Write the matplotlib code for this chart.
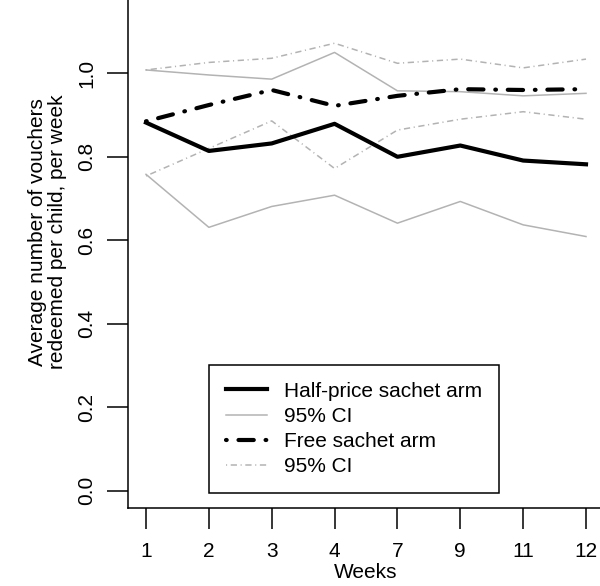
import matplotlib
matplotlib.use('Agg')
import matplotlib.pyplot as plt
import numpy as np

# week labels (plotted at equal spacing)
weeks = ['1', '2', '3', '4', '7', '9', '11', '12']

# half-price sachet arm
half_mean = [0.882, 0.814, 0.832, 0.879, 0.800, 0.827, 0.791, 0.782]
half_upper = [1.008, 0.996, 0.986, 1.050, 0.958, 0.956, 0.946, 0.952]
half_lower = [0.758, 0.631, 0.681, 0.708, 0.641, 0.693, 0.637, 0.609]

# free sachet arm
free_mean = [0.885, 0.924, 0.960, 0.922, 0.946, 0.962, 0.960, 0.962]
free_upper = [1.008, 1.026, 1.036, 1.072, 1.024, 1.034, 1.013, 1.034]
free_lower = [0.754, 0.820, 0.886, 0.772, 0.864, 0.890, 0.908, 0.890]

yticks = [0.0, 0.2, 0.4, 0.6, 0.8, 1.0]

plt.rcParams.update({'font.family': 'Liberation Sans', 'font.size': 15,
                     'lines.scale_dashes': False})

grey = '#b3b3b3'
x = np.arange(1, len(weeks) + 1)

fig = plt.figure(figsize=(6, 5.86), dpi=100)
ax = fig.add_axes([0.214, 0.1326, 0.792, 0.8848])

# confidence bands first, means on top
ci_half = []
ci_half += ax.plot(x, half_upper, color=grey, lw=1.1)
ax.plot(x, half_lower, color=grey, lw=1.1)
ci_free = []
ci_free += ax.plot(x, free_upper, color=grey, lw=1.1, dashes=(0.8, 2.6, 4.5, 2.6))
ax.plot(x, free_lower, color=grey, lw=1.1, dashes=(0.8, 2.6, 4.5, 2.6))
line_half, = ax.plot(x, half_mean, color='black', lw=3)
line_free, = ax.plot(x, free_mean, color='black', lw=3,
                     dashes=(0.5, 8.5, 11, 8.5), dash_capstyle='round')

ax.set_xlim(0.72, 8.28)
ax.set_ylim(-0.042, 1.2)
ax.set_xticks(x)
ax.set_xticklabels(weeks)
ax.set_yticks(yticks)
ax.set_yticklabels(['%.1f' % v for v in yticks])
ax.tick_params(length=15, width=1.1, color='black')
ax.tick_params(axis='x', pad=9)
ax.tick_params(axis='y', pad=8, labelrotation=90)
for lab in ax.get_yticklabels():
    lab.set_va('center')

for s in ax.spines.values():
    s.set_linewidth(1.1)
    s.set_color('black')

ax.set_xlabel('Weeks', labelpad=2)
ax.set_ylabel('Average number of vouchers\nredeemed per child, per week',
              linespacing=1.1)
ax.yaxis.set_label_coords(-0.129, 0.533)

legend = fig.legend([line_half, ci_half[0], line_free, ci_free[0]],
                    ['Half-price sachet arm', '95% CI', 'Free sachet arm', '95% CI'],
                    loc='lower left', bbox_to_anchor=(209 / 600, (586 - 493) / 586),
                    frameon=True, fancybox=False, framealpha=1, edgecolor='black',
                    handlelength=2.0, handletextpad=0.8, labelspacing=0.3,
                    borderpad=0.8, borderaxespad=0)
legend.get_frame().set_linewidth(1.1)

fig.savefig('out.png', dpi=100)
